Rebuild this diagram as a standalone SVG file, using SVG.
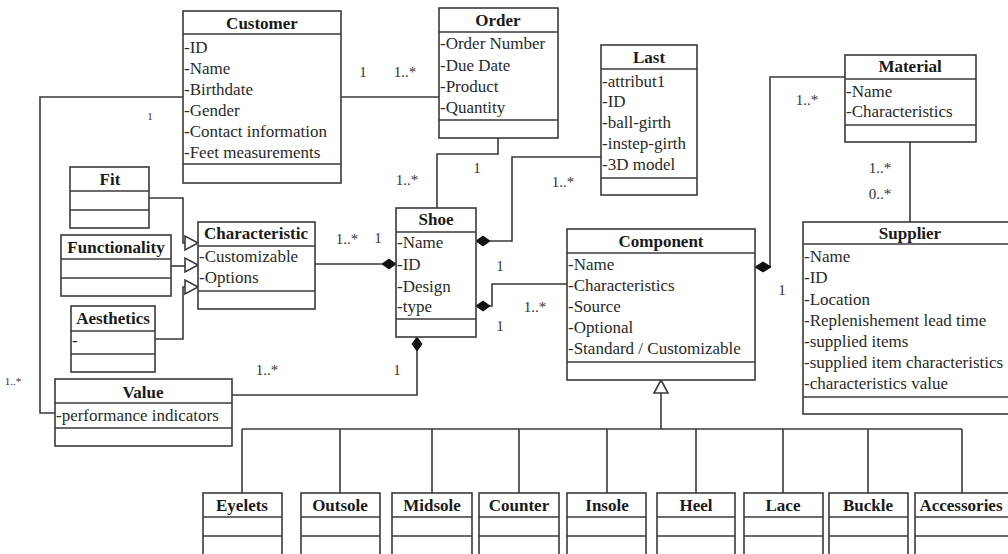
<svg xmlns="http://www.w3.org/2000/svg" width="1008" height="554" viewBox="0 0 1008 554">
<style>
.box{fill:#fff;stroke:#3a3a3a;stroke-width:1.6}
.div{stroke:#3a3a3a;stroke-width:1.6}
.t{font-family:"Liberation Serif",serif;font-size:17px;font-weight:bold;fill:#1a1a1a;text-anchor:middle}
.a{font-family:"Liberation Serif",serif;font-size:17px;fill:#2a2a2a}
.m{font-family:"Liberation Serif",serif;font-size:15px;fill:#333;text-anchor:middle}
.s{font-family:"Liberation Serif",serif;font-size:11px;fill:#333;text-anchor:middle}
.c{fill:none;stroke:#3a3a3a;stroke-width:1.6}
.dia{fill:#111;stroke:#111;stroke-width:1}
.tri{fill:#fff;stroke:#3a3a3a;stroke-width:1.6}
</style>
<rect width="1008" height="554" fill="#fff"/>
<g id="connectors">
<polyline class="c" points="341,97 439,97"/>
<polyline class="c" points="183,97 40,97 40,413 55,413"/>
<polyline class="c" points="498,138 498,154 437,154 437,208"/>
<polyline class="c" points="601,157 512,157 512,241 490,241"/>
<polygon class="dia" points="476,241 483,236 490,241 483,246"/>
<polyline class="c" points="315,264 382,264"/>
<polygon class="dia" points="382,264 389,259 396,264 389,269"/>
<polyline class="c" points="490,306 492,306 492,284 567,284"/>
<polygon class="dia" points="476,306 483,301 490,306 483,311"/>
<polyline class="c" points="417,351 417,395 232,395"/>
<polygon class="dia" points="417,337 422,344 417,351 412,344"/>
<polyline class="c" points="845,77 770,77 770,267"/>
<polygon class="dia" points="755,267 763,262 771,267 763,272"/>
<polyline class="c" points="910,142 910,222"/>
<polyline class="c" points="149,198 183,198 183,243 185,243"/>
<polyline class="c" points="171,266 185,266"/>
<polyline class="c" points="155,339 183,339 183,287 185,287"/>
<polygon class="tri" points="198,243 185,236 185,250"/>
<polygon class="tri" points="198,265 185,258 185,272"/>
<polygon class="tri" points="198,287 185,280 185,294"/>
<polyline class="c" points="661,393 661,429"/>
<polygon class="tri" points="661,380 654,393 668,393"/>
<polyline class="c" points="242,429 962,429"/>
<polyline class="c" points="242,429 242,493"/>
<polyline class="c" points="340,429 340,493"/>
<polyline class="c" points="432,429 432,493"/>
<polyline class="c" points="519,429 519,493"/>
<polyline class="c" points="607,429 607,493"/>
<polyline class="c" points="696,429 696,493"/>
<polyline class="c" points="783,429 783,493"/>
<polyline class="c" points="868,429 868,493"/>
<polyline class="c" points="962,429 962,493"/>
<text class="m" x="363" y="77">1</text>
<text class="m" x="405" y="77">1..*</text>
<text class="s" x="150" y="120">1</text>
<text class="s" x="13" y="385">1..*</text>
<text class="m" x="477" y="173">1</text>
<text class="m" x="407" y="185">1..*</text>
<text class="m" x="563" y="187">1..*</text>
<text class="m" x="347" y="244">1..*</text>
<text class="m" x="378" y="243">1</text>
<text class="m" x="500" y="271">1</text>
<text class="m" x="535" y="312">1..*</text>
<text class="m" x="500" y="331">1</text>
<text class="m" x="397" y="375">1</text>
<text class="m" x="267" y="375">1..*</text>
<text class="m" x="807" y="105">1..*</text>
<text class="m" x="782" y="295">1</text>
<text class="m" x="880" y="173">1..*</text>
<text class="m" x="880" y="199">0..*</text>
</g>
<g id="customer">
<rect class="box" x="183" y="11" width="158" height="172"/>
<line class="div" x1="183" y1="34" x2="341" y2="34"/>
<line class="div" x1="183" y1="164" x2="341" y2="164"/>
<text class="t" x="262" y="29">Customer</text>
<text class="a" x="184" y="53">-ID</text>
<text class="a" x="184" y="74">-Name</text>
<text class="a" x="184" y="95">-Birthdate</text>
<text class="a" x="184" y="116">-Gender</text>
<text class="a" x="184" y="137">-Contact information</text>
<text class="a" x="184" y="158">-Feet measurements</text>
</g>
<g id="order">
<rect class="box" x="439" y="8" width="119" height="130"/>
<line class="div" x1="439" y1="32" x2="558" y2="32"/>
<line class="div" x1="439" y1="120" x2="558" y2="120"/>
<text class="t" x="498" y="26">Order</text>
<text class="a" x="440" y="49">-Order Number</text>
<text class="a" x="440" y="71">-Due Date</text>
<text class="a" x="440" y="92">-Product</text>
<text class="a" x="440" y="113">-Quantity</text>
</g>
<g id="last">
<rect class="box" x="601" y="45" width="96" height="150"/>
<line class="div" x1="601" y1="69" x2="697" y2="69"/>
<line class="div" x1="601" y1="178" x2="697" y2="178"/>
<text class="t" x="649" y="63">Last</text>
<text class="a" x="602" y="87">-attribut1</text>
<text class="a" x="602" y="107">-ID</text>
<text class="a" x="602" y="128">-ball-girth</text>
<text class="a" x="602" y="149">-instep-girth</text>
<text class="a" x="602" y="170">-3D model</text>
</g>
<g id="material">
<rect class="box" x="845" y="55" width="131" height="87"/>
<line class="div" x1="845" y1="79" x2="976" y2="79"/>
<line class="div" x1="845" y1="125" x2="976" y2="125"/>
<text class="t" x="910" y="72">Material</text>
<text class="a" x="846" y="97">-Name</text>
<text class="a" x="846" y="117">-Characteristics</text>
</g>
<g id="supplier">
<rect class="box" x="803" y="222" width="215" height="192"/>
<line class="div" x1="803" y1="244" x2="1018" y2="244"/>
<line class="div" x1="803" y1="397" x2="1018" y2="397"/>
<text class="t" x="910" y="239">Supplier</text>
<text class="a" x="804" y="262">-Name</text>
<text class="a" x="804" y="283">-ID</text>
<text class="a" x="804" y="305">-Location</text>
<text class="a" x="804" y="326">-Replenishement lead time</text>
<text class="a" x="804" y="347">-supplied items</text>
<text class="a" x="804" y="368">-supplied item characteristics</text>
<text class="a" x="804" y="389">-characteristics value</text>
</g>
<g id="component">
<rect class="box" x="567" y="229" width="188" height="151"/>
<line class="div" x1="567" y1="253" x2="755" y2="253"/>
<line class="div" x1="567" y1="362" x2="755" y2="362"/>
<text class="t" x="661" y="247">Component</text>
<text class="a" x="568" y="270">-Name</text>
<text class="a" x="568" y="291">-Characteristics</text>
<text class="a" x="568" y="312">-Source</text>
<text class="a" x="568" y="333">-Optional</text>
<text class="a" x="568" y="354">-Standard / Customizable</text>
</g>
<g id="shoe">
<rect class="box" x="396" y="208" width="80" height="129"/>
<line class="div" x1="396" y1="232" x2="476" y2="232"/>
<line class="div" x1="396" y1="319" x2="476" y2="319"/>
<text class="t" x="436" y="225">Shoe</text>
<text class="a" x="397" y="248">-Name</text>
<text class="a" x="397" y="270">-ID</text>
<text class="a" x="397" y="292">-Design</text>
<text class="a" x="397" y="312">-type</text>
</g>
<g id="characteristic">
<rect class="box" x="198" y="222" width="117" height="87"/>
<line class="div" x1="198" y1="246" x2="315" y2="246"/>
<line class="div" x1="198" y1="291" x2="315" y2="291"/>
<text class="t" x="256" y="239">Characteristic</text>
<text class="a" x="199" y="262">-Customizable</text>
<text class="a" x="199" y="283">-Options</text>
</g>
<g id="fit">
<rect class="box" x="70" y="167" width="79" height="61"/>
<line class="div" x1="70" y1="191" x2="149" y2="191"/>
<line class="div" x1="70" y1="210" x2="149" y2="210"/>
<text class="t" x="110" y="185">Fit</text>
</g>
<g id="functionality">
<rect class="box" x="61" y="235" width="110" height="61"/>
<line class="div" x1="61" y1="259" x2="171" y2="259"/>
<line class="div" x1="61" y1="278" x2="171" y2="278"/>
<text class="t" x="116" y="253">Functionality</text>
</g>
<g id="aesthetics">
<rect class="box" x="71" y="306" width="84" height="66"/>
<line class="div" x1="71" y1="331" x2="155" y2="331"/>
<line class="div" x1="71" y1="354" x2="155" y2="354"/>
<text class="t" x="113" y="324">Aesthetics</text>
<text class="a" x="72" y="346">-</text>
</g>
<g id="value">
<rect class="box" x="55" y="379" width="177" height="67"/>
<line class="div" x1="55" y1="403" x2="232" y2="403"/>
<line class="div" x1="55" y1="428" x2="232" y2="428"/>
<text class="t" x="143" y="398">Value</text>
<text class="a" x="56" y="421">-performance indicators</text>
</g>
<g id="eyelets">
<rect class="box" x="203" y="493" width="79" height="70"/>
<line class="div" x1="203" y1="517" x2="282" y2="517"/>
<line class="div" x1="203" y1="536" x2="282" y2="536"/>
<text class="t" x="242" y="511">Eyelets</text>
</g>
<g id="outsole">
<rect class="box" x="301" y="493" width="79" height="70"/>
<line class="div" x1="301" y1="517" x2="380" y2="517"/>
<line class="div" x1="301" y1="536" x2="380" y2="536"/>
<text class="t" x="340" y="511">Outsole</text>
</g>
<g id="midsole">
<rect class="box" x="392" y="493" width="80" height="70"/>
<line class="div" x1="392" y1="517" x2="472" y2="517"/>
<line class="div" x1="392" y1="536" x2="472" y2="536"/>
<text class="t" x="432" y="511">Midsole</text>
</g>
<g id="counter">
<rect class="box" x="479" y="493" width="80" height="70"/>
<line class="div" x1="479" y1="517" x2="559" y2="517"/>
<line class="div" x1="479" y1="536" x2="559" y2="536"/>
<text class="t" x="519" y="511">Counter</text>
</g>
<g id="insole">
<rect class="box" x="567" y="493" width="79" height="70"/>
<line class="div" x1="567" y1="517" x2="646" y2="517"/>
<line class="div" x1="567" y1="536" x2="646" y2="536"/>
<text class="t" x="607" y="511">Insole</text>
</g>
<g id="heel">
<rect class="box" x="657" y="493" width="78" height="70"/>
<line class="div" x1="657" y1="517" x2="735" y2="517"/>
<line class="div" x1="657" y1="536" x2="735" y2="536"/>
<text class="t" x="696" y="511">Heel</text>
</g>
<g id="lace">
<rect class="box" x="744" y="493" width="79" height="70"/>
<line class="div" x1="744" y1="517" x2="823" y2="517"/>
<line class="div" x1="744" y1="536" x2="823" y2="536"/>
<text class="t" x="783" y="511">Lace</text>
</g>
<g id="buckle">
<rect class="box" x="829" y="493" width="79" height="70"/>
<line class="div" x1="829" y1="517" x2="908" y2="517"/>
<line class="div" x1="829" y1="536" x2="908" y2="536"/>
<text class="t" x="868" y="511">Buckle</text>
</g>
<g id="accessories">
<rect class="box" x="915" y="493" width="100" height="70"/>
<line class="div" x1="915" y1="517" x2="1015" y2="517"/>
<line class="div" x1="915" y1="536" x2="1015" y2="536"/>
<text class="t" x="961" y="511">Accessories</text>
</g>
</svg>
